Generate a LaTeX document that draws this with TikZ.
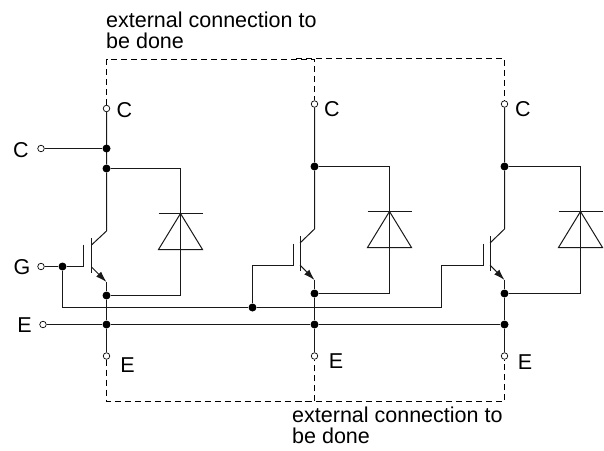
\documentclass[tikz,border=0pt]{standalone}
\usepackage{fontspec}
\setmainfont{Liberation Sans}
\usetikzlibrary{arrows.meta}
\tikzset{
  wire/.style={line width=1pt,black!90},
  link/.style={line width=0.8pt,dash pattern=on 6pt off 4pt,black},
  dot/.style={circle,fill=black,inner sep=0pt,minimum size=8pt},
  pin/.style={circle,draw=black,fill=white,line width=0.7pt,inner sep=0pt,minimum size=6.5pt},
  lbl/.style={inner sep=0pt,font=\fontsize{21.5}{21}\selectfont},
  note/.style={inner sep=0pt,align=left,anchor=north west,font=\fontsize{21.5}{21}\selectfont}
}
\begin{document}
\begin{tikzpicture}[x=1pt,y=-1pt]
\useasboundingbox (0,0) rectangle (604,450);

% three transistor and diode legs
\foreach \n/\x/\k/\d/\b/\g/\m/\ct in {a/106.5/0/74/15/23/266.5/108.5,b/314.5/-2/75/14.5/21.5/265.5/104,c/504.5/-2/76/14.5/21.5/265.5/104}{
  \node[pin] (ct\n) at (\x,\ct) {};
  \node[pin] (et\n) at (\x,356) {};
  \node[dot] (top\n) at (\x,168.5+\k) {};
  \node[dot] (emi\n) at (\x,295.5+\k) {};
  \node[dot] (bus\n) at (\x,324.5) {};
  \coordinate (col\n) at (\x,231+\k);
  \coordinate (ar\n) at (\x,282+\k);
  \coordinate (cb\n) at (\x-\b,245+\k);
  \coordinate (eb\n) at (\x-\b,267+\k);
  \coordinate (bt\n) at (\x-\b,238+\k);
  \coordinate (bb\n) at (\x-\b,273+\k);
  \coordinate (gt\n) at (\x-\g,\m-22);
  \coordinate (gb\n) at (\x-\g,\m);
  \coordinate (dt\n) at (\x+\d,168.5+\k);
  \coordinate (db\n) at (\x+\d,295.5+\k);
  \coordinate (da\n) at (\x+\d,213.5+\k);
  \coordinate (dl\n) at (\x+\d-22,249.5+\k);
  \coordinate (dr\n) at (\x+\d+22,249.5+\k);
  \coordinate (bl\n) at (\x+\d-22,213.5+\k);
  \coordinate (br\n) at (\x+\d+22,213.5+\k);
  \draw[wire] (ct\n) -- (top\n) -- (col\n) -- (cb\n);
  \draw[wire] (bt\n) -- (bb\n);
  \draw[wire] (gt\n) -- (gb\n);
  \draw[wire,-{Latex[length=11pt,width=7pt]}] (eb\n) -- (ar\n);
  \draw[wire] (ar\n) -- (emi\n) -- (bus\n) -- (et\n);
  \draw[wire] (top\n) -- (dt\n) -- (db\n) -- (emi\n);
  \draw[wire] (dl\n) -- (da\n) -- (dr\n) -- cycle;
  \draw[wire] (bl\n) -- (br\n);
}

% gate wiring
\node[lbl] (glbl) at (22,267.5) {G};
\node[pin] (gpin) at (41,266.5) {};
\node[dot] (gdot) at (62.5,266.5) {};
\node[dot] (gjoin) at (252.5,307.5) {};
\coordinate (gbend) at (62.5,307.5);
\coordinate (gup) at (252.5,265.5);
\coordinate (hbus) at (441.5,307.5);
\coordinate (hup) at (441.5,265.5);
\draw[wire] (gpin) -- (gdot) -- (gba);
\draw[wire] (gdot) -- (gbend) -- (gjoin) -- (hbus) -- (hup) -- (gbc);
\draw[wire] (gjoin) -- (gup) -- (gbb);

% collector and emitter rails
\node[lbl] (clbl) at (21,150.5) {C};
\node[pin] (cpin) at (41,148.5) {};
\node[dot] (cdot) at (106.5,148.5) {};
\draw[wire] (cpin) -- (cdot);
\node[lbl] (elbl) at (24.5,325.5) {E};
\node[pin] (epin) at (43,324.5) {};
\draw[wire] (epin) -- (busa) -- (busb) -- (busc);

% external links
\coordinate (ul) at (106.5,59.5);
\coordinate (um) at (314.5,59.5);
\coordinate (un) at (296,58.5);
\coordinate (ur) at (504.5,58.5);
\coordinate (ll) at (106.5,401.5);
\coordinate (lm) at (314.5,401.5);
\coordinate (ln) at (296,401.5);
\coordinate (lr) at (504.5,401.5);
\draw[link] (cta) -- (ul) -- (um) -- (ctb);
\draw[link] (un) -- (ur) -- (ctc);
\draw[link] (eta) -- (ll) -- (lm) -- (etb);
\draw[link] (ln) -- (lr) -- (etc);

% labels
\node[lbl] (cla) at (124.5,110.5) {C};
\node[lbl] (clb) at (332,109.5) {C};
\node[lbl] (clc) at (523,109.5) {C};
\node[lbl] (ela) at (127.5,365.5) {E};
\node[lbl] (elb) at (336,361.5) {E};
\node[lbl] (elc) at (525,362) {E};
\node[note] (topnote) at (106,12) {external connection to\\be done};
\node[note] (botnote) at (292,407) {external connection to\\be done};
\end{tikzpicture}
\end{document}
